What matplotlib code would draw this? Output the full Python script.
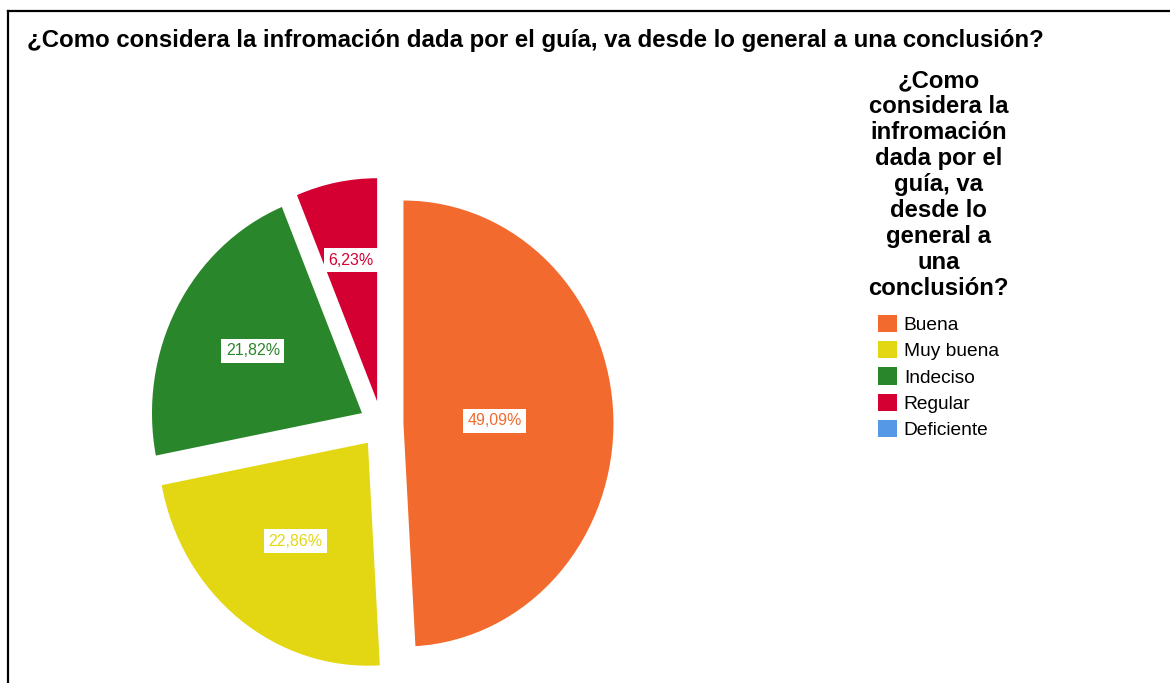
import matplotlib
matplotlib.use("Agg")
import matplotlib.pyplot as plt
from matplotlib.lines import Line2D
import numpy as np

# ---- data ----
categories = ["Buena", "Muy buena", "Indeciso", "Regular", "Deficiente"]
percentages = [49.09, 22.86, 21.82, 6.23, 0.00]
pct_labels = ["49,09%", "22,86%", "21,82%", "6,23%", ""]
colors = ["#F26A2E", "#E3D713", "#2A862B", "#D50032", "#5598E6"]
title_text = "¿Como considera la infromación dada por el guía, va desde lo general a una conclusión?"
legend_title = "¿Como\nconsidera la\ninfromación\ndada por el\nguía, va\ndesde lo\ngeneral a\nuna\nconclusión?"

# ---- layout / style ----
W, H = 1170, 683
FONT = "Liberation Sans"
label_radius = [0.435, 0.56, 0.59, 0.645, 0.5]
explode_frac = 0.105

fig = plt.figure(figsize=(W / 100, H / 100), dpi=100)
fig.patch.set_facecolor("white")
renderer = fig.canvas.get_renderer()


def fit_size(s, target_px, weight="normal"):
    t = fig.text(0, 0, s, fontsize=10, fontweight=weight, family=FONT)
    w = t.get_window_extent(renderer).width
    t.remove()
    return 10 * target_px / w


# pie axes: centre at (381.4, 424.2) px, radii 210 x 223 px
cx, cy = 381.4, H - 424.2
rx, ry = 210.0, 223.0
xl, yl = 1.3, 1.15
ax = fig.add_axes([(cx - xl * rx) / W, (cy - yl * ry) / H, 2 * xl * rx / W, 2 * yl * ry / H])

wedges, _ = ax.pie(percentages, colors=colors, startangle=90, counterclock=False,
                   explode=[explode_frac] * len(percentages),
                   wedgeprops=dict(linewidth=0, edgecolor="none"))
ax.set_aspect("auto")
ax.set_xlim(-xl, xl)
ax.set_ylim(-yl, yl)
ax.axis("off")

lab_size = fit_size("49,09%", 54)
for w, lab, r, c in zip(wedges, pct_labels, label_radius, colors):
    if not lab:
        continue
    th = np.deg2rad((w.theta1 + w.theta2) / 2)
    x0, y0 = w.center
    ax.text(x0 + r * np.cos(th), y0 + r * np.sin(th), lab, ha="center", va="center",
            color=c, fontsize=lab_size, family=FONT,
            bbox=dict(boxstyle="square,pad=0.28", fc="white", ec="none"))

# title
fig.text(27 / W, 1 - 47 / H, title_text, ha="left", va="baseline",
         fontsize=fit_size(title_text, 1018, "bold"), fontweight="bold", family=FONT)

# legend
leg_entry_size = fit_size("Muy buena", 95)
leg_title_size = fit_size("conclusión?", 140, "bold")
leg = fig.legend(wedges, categories, loc="upper center",
                 bbox_to_anchor=(938.5 / W, 1 - 60 / H), frameon=False,
                 prop=dict(family=FONT, size=leg_entry_size),
                 title=legend_title,
                 title_fontproperties=dict(family=FONT, size=leg_title_size, weight="bold"),
                 handlelength=1.0, handleheight=1.0, handletextpad=0.33,
                 labelspacing=0.37, borderpad=0, alignment="center")
leg.get_title().set_multialignment("center")
leg.get_title().set_linespacing(1.16)
leg._legend_box.sep = 11

# frame lines (top and left)
fig.add_artist(Line2D([8 / W, 1], [1 - 11 / H, 1 - 11 / H], transform=fig.transFigure,
                      color="black", linewidth=1.6))
fig.add_artist(Line2D([8 / W, 8 / W], [0, 1 - 11 / H], transform=fig.transFigure,
                      color="black", linewidth=1.6))

fig.savefig("out.png", dpi=100, facecolor="white")
